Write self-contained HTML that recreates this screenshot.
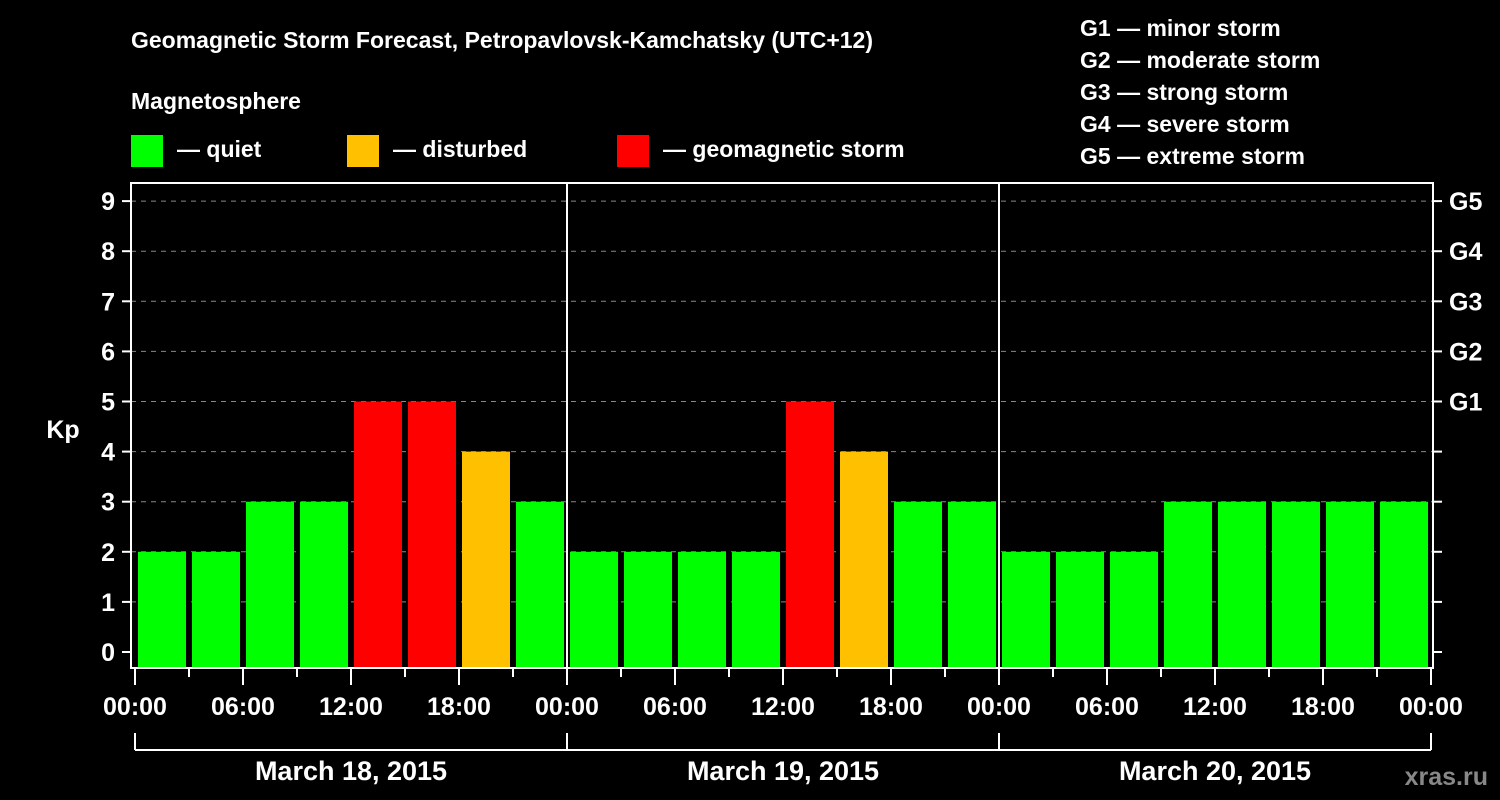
<!DOCTYPE html>
<html><head><meta charset="utf-8"><style>
html,body{margin:0;padding:0;background:#000;}
svg{display:block;font-family:"Liberation Sans",Arial,sans-serif;font-weight:bold;}
</style></head><body>
<svg id="chart" width="1500" height="800" viewBox="0 0 1500 800">
<rect width="1500" height="800" fill="#000"/>
<text x="131" y="48" fill="#fff" font-size="23">Geomagnetic Storm Forecast, Petropavlovsk-Kamchatsky (UTC+12)</text>
<text x="131" y="109" fill="#fff" font-size="23">Magnetosphere</text>
<g><rect x="131" y="135" width="32" height="32" fill="#00ff00"/><text x="177" y="157" fill="#fff" font-size="23">— quiet</text></g>
<g><rect x="347" y="135" width="32" height="32" fill="#ffc000"/><text x="393" y="157" fill="#fff" font-size="23">— disturbed</text></g>
<g><rect x="617" y="135" width="32" height="32" fill="#ff0000"/><text x="663" y="157" fill="#fff" font-size="23">— geomagnetic storm</text></g>
<g fill="#fff" font-size="23">
<text x="1080" y="36">G1 — minor storm</text>
<text x="1080" y="68">G2 — moderate storm</text>
<text x="1080" y="100">G3 — strong storm</text>
<text x="1080" y="132">G4 — severe storm</text>
<text x="1080" y="164">G5 — extreme storm</text>
</g>
<text x="63" y="438" fill="#fff" font-size="25" text-anchor="middle">Kp</text>
<text x="1488" y="785" fill="#888" font-size="25" text-anchor="end">xras.ru</text>
<g id="plot"></g>
</svg>
<script>
const kpValues = [2,2,3,3,5,5,4,3, 2,2,2,2,5,4,3,3, 2,2,2,3,3,3,3,3];
const dayLabels = ["March 18, 2015","March 19, 2015","March 20, 2015"];
const hourLabels = ["00:00","06:00","12:00","18:00"];
const yTicks = [0,1,2,3,4,5,6,7,8,9];
const gLabels = ["G1","G2","G3","G4","G5"];
const gLevels = [5,6,7,8,9];

const NS="http://www.w3.org/2000/svg";
const X0=135, X1=1431, FL=131, FR=1433, FT=183, FB=668;
const y=v=>652-v*50.1;
const xh=h=>X0+(X1-X0)*h/72;
const g=document.getElementById('plot');
function mk(t,a,p){const e=document.createElementNS(NS,t);for(const k in a)e.setAttribute(k,a[k]);(p||g).appendChild(e);return e;}
function color(v){return v>=5?"#ff0000":v>=4?"#ffc000":"#00ff00";}

yTicks.forEach(v=>{
  if(v>0){const l=mk('line',{x1:FL,x2:FR,y1:y(v),y2:y(v),stroke:'#888','stroke-width':1,'stroke-dasharray':'5,5'});
  
  }
  const t=mk('line',{x1:FL-9,x2:FL,y1:y(v),y2:y(v),stroke:'#fff','stroke-width':2});
  
  
  const r=mk('line',{x1:FR,x2:FR+9,y1:y(v),y2:y(v),stroke:'#fff','stroke-width':2});
  
  
  const tx=mk('text',{x:FL-16,y:y(v)+9,fill:'#fff','font-size':25,'text-anchor':'end'});
  tx.textContent=v;
  
  
});
gLevels.forEach((v,i)=>{
  const tx=mk('text',{x:1449,y:y(v)+9,fill:'#fff','font-size':25});
  tx.textContent=gLabels[i];
  
  
});
kpValues.forEach((v,i)=>{
  const xa=xh(i*3)+3, xb=xh(i*3+3)-3;
  const b=mk('rect',{x:xa,y:y(v),width:xb-xa,height:FB-y(v),fill:color(v)});
  
  
});
const frame=mk('rect',{x:FL,y:FT,width:FR-FL,height:FB-FT,fill:'none',stroke:'#fff','stroke-width':2});


for(let d=1;d<dayLabels.length;d++){
  const l=mk('line',{x1:xh(d*24),x2:xh(d*24),y1:FT,y2:FB,stroke:'#fff','stroke-width':2});
  
  
}
for(let h=0;h<=72;h+=3){
  const major=h%6===0;
  const t=mk('line',{x1:xh(h),x2:xh(h),y1:FB,y2:FB+(major?17:9),stroke:'#fff','stroke-width':2});
  
  
  if(major){
    const tx=mk('text',{x:xh(h),y:715,fill:'#fff','font-size':25,'text-anchor':'middle'});
    tx.textContent=hourLabels[(h/6)%4];
    
    
  }
}
const br=mk('line',{x1:xh(0),x2:xh(72),y1:750,y2:750,stroke:'#fff','stroke-width':2});


for(let d=0;d<=dayLabels.length;d++){
  const l=mk('line',{x1:xh(d*24),x2:xh(d*24),y1:733,y2:750,stroke:'#fff','stroke-width':2});
  
  
}
dayLabels.forEach((s,d)=>{
  const tx=mk('text',{x:xh(d*24+12),y:780,fill:'#fff','font-size':27,'text-anchor':'middle'});
  tx.textContent=s;
  
  
});
</script>
</body></html>
